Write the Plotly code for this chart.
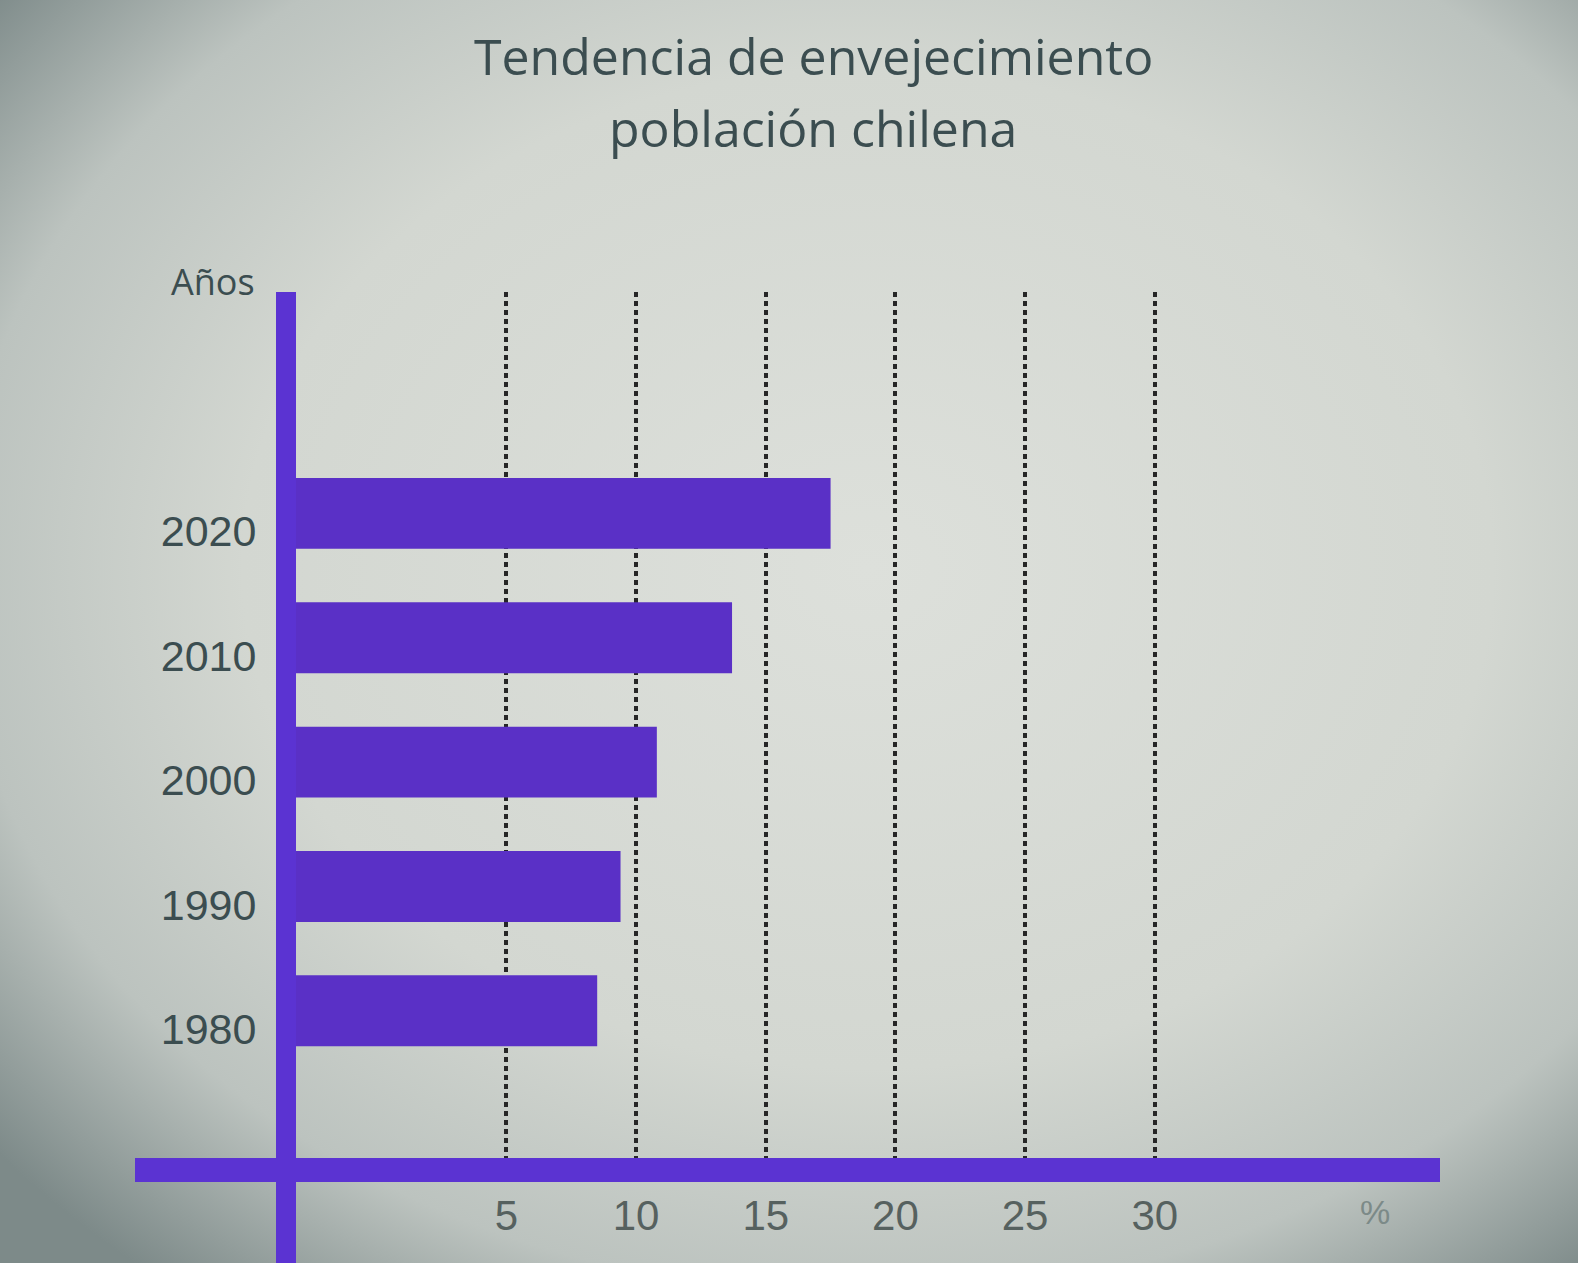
import base64
import plotly.graph_objects as go

# ---- data ----
years = ["1980", "1990", "2000", "2010", "2020"]
percent = [8.5, 9.4, 10.8, 13.7, 17.5]
x_ticks = [5, 10, 15, 20, 25, 30]
x_tick_labels = ["5", "10", "15", "20", "25", "30"]
title_lines = ["Tendencia de envejecimiento", "población chilena"]
y_axis_title = "Años"
x_axis_unit = "%"

# ---- style ----
PURPLE_BAR = "#5a30c6"
PURPLE_AXIS = "#5b33d2"
TEXT_DARK = "#3b4d50"
TEXT_TICK = "#56615f"
X_MIN, X_MAX = -3.5, 41.0
Y_MIN, Y_MAX = -1.28, 5.78
L, R, T, B = 286, 138, 292, 93
PW, PH = 1578 - L - R, 1263 - T - B

svg = """<svg xmlns='http://www.w3.org/2000/svg' width='1578' height='1263' preserveAspectRatio='none'>
<defs><radialGradient id='g' cx='0.55' cy='0.45' r='0.72'>
<stop offset='0' stop-color='#dde0db'/>
<stop offset='0.55' stop-color='#d3d7d1'/>
<stop offset='0.8' stop-color='#bcc3bf'/>
<stop offset='1' stop-color='#7d8a89'/>
</radialGradient></defs>
<rect width='1578' height='1263' fill='url(#g)'/></svg>"""
bg_uri = "data:image/svg+xml;base64," + base64.b64encode(svg.encode()).decode()

fig = go.Figure()
fig.add_trace(go.Bar(
    y=years, x=[p - X_MIN for p in percent], base=X_MIN,
    orientation="h", marker=dict(color=PURPLE_BAR, line=dict(width=0)),
    width=0.57, hoverinfo="skip",
))

title_ann = [
    dict(text=line, xref="paper", yref="paper", x=(813 - L) / PW, y=1 + (T - yc) / PH,
         xanchor="center", yanchor="middle", showarrow=False,
         font=dict(family="Open Sans", size=50, color=TEXT_DARK))
    for line, yc in zip(title_lines, [56, 128])
]

fig.update_layout(
    width=1578, height=1263,
    margin=dict(l=L, r=R, t=T, b=B),
    paper_bgcolor="#cfd3cd", plot_bgcolor="rgba(0,0,0,0)",
    showlegend=False,
    font=dict(family="Open Sans", color=TEXT_DARK),
    xaxis=dict(range=[X_MIN, X_MAX], tickvals=x_ticks, ticktext=x_tick_labels,
               showgrid=True, gridcolor="#262626", gridwidth=3.5, griddash="5px,4px",
               zeroline=False, showline=False,
               ticks="outside", ticklen=9, tickcolor="rgba(0,0,0,0)",
               tickfont=dict(family="Liberation Sans", size=42, color=TEXT_TICK)),
    yaxis=dict(range=[Y_MIN, Y_MAX], type="category", showgrid=False,
               zeroline=False, showline=False,
               ticks="outside", ticklen=20, tickcolor="rgba(0,0,0,0)",
               ticklabelshift=18,
               tickfont=dict(family="Liberation Sans", size=43, color=TEXT_DARK)),
    images=[dict(source=bg_uri, xref="paper", yref="paper", x=-L / PW, y=1 + T / PH,
                 sizex=1578 / PW, sizey=1263 / PH, xanchor="left", yanchor="top",
                 sizing="stretch", layer="below")],
    shapes=[
        dict(type="line", xref="paper", yref="paper", x0=(135 - L) / PW, x1=1, y0=0, y1=0,
             line=dict(color=PURPLE_AXIS, width=24), layer="above"),
        dict(type="line", xref="paper", yref="paper", x0=0, x1=0, y0=-B / PH, y1=1,
             line=dict(color=PURPLE_AXIS, width=20), layer="above"),
    ],
    annotations=title_ann + [
        dict(text=y_axis_title, xref="paper", yref="paper", x=(257 - L) / PW, y=1 + (T - 282) / PH,
             xanchor="right", yanchor="middle", showarrow=False,
             font=dict(family="Open Sans", size=36, color=TEXT_DARK)),
        dict(text=x_axis_unit, xref="paper", yref="paper", x=(1375 - L) / PW, y=-(1212 - T - PH) / PH,
             xanchor="center", yanchor="middle", showarrow=False,
             font=dict(family="Liberation Sans", size=34, color="#7c8a88")),
    ],
)

fig.write_html("out.html", config={"displayModeBar": False},
               post_script="document.body.style.margin='0';")
